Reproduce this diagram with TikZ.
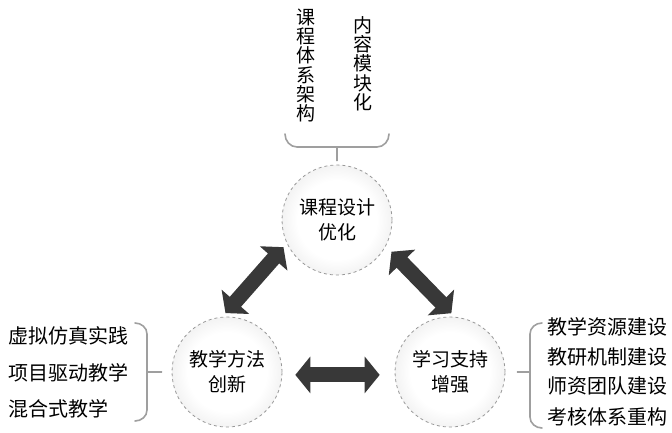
\documentclass[tikz,border=0pt]{standalone}
\usepackage{fontspec}
\setmainfont{Noto Sans CJK SC}
\usetikzlibrary{positioning}
\usetikzlibrary{arrows.meta}
\pgfdeclareradialshading{ballgray}{\pgfpoint{0bp}{0bp}}{color(0bp)=(white); color(18bp)=(white); color(50bp)=(gray!42); color(72bp)=(gray!42)}
\tikzset{
    mycircle/.style = {circle, minimum size=110pt, inner sep=0pt, draw=gray!80, dashed, line width=0.8pt, shade, shading=ballgray, align=center, font=\fontsize{19}{25}\selectfont, text=black},
    mylist/.style = {anchor=west, inner sep=0pt, font=\fontsize{20}{20}\selectfont, text=black},
    mycol/.style = {align=center, inner sep=0pt, font=\fontsize{19}{19.3}\selectfont, text=black},
    bigarrow/.style = {{Triangle[width=36pt,length=15pt]}-{Triangle[width=36pt,length=15pt]}, line width=15pt, black!78},
    bracket/.style = {-, line width=1.6pt, gray!75, line cap=round},
}
\begin{document}
\begin{tikzpicture}[x=1pt,y=-1pt]
\useasboundingbox (0,0) rectangle (672,432);
\node[mycircle] at (337,220) (design) {课程设计\\优化};
\node[mycircle] at (227,372) (method) {教学方法\\创新};
\node[mycircle] at (450,372) (support) {学习支持\\增强};
%
\draw[bigarrow, shorten <=5pt, shorten >=5pt] (method.95) -- (design.205);
\draw[bigarrow, shorten <=8pt, shorten >=5pt] (design.-28) -- (support.85);
\draw[bigarrow, shorten <=13pt, shorten >=15pt] (method.-3) -- (support.183);
%
\node[mycol] at (306,65.5) (struct) {课\\程\\体\\系\\架\\构};
\node[mycol] at (363,63.5) (module) {内\\容\\模\\块\\化};
\draw[bracket] (285,134) to[out=-90,in=180] (297,147) -- (377,147) to[out=0,in=-90] (389,134);
\coordinate (tstem) at (337,147);
\draw[bracket, shorten >=4pt] (tstem) -- (design);
%
\node[mylist] at (8,336) (virt) {虚拟仿真实践};
\node[mylist] at (8,373) (proj) {项目驱动教学};
\node[mylist] at (8,409) (mixed) {混合式教学};
\draw[bracket] (135,323) to[out=0,in=90] (147,334) -- (147,410) to[out=-90,in=0] (135,421);
\coordinate (lstem) at (147,372);
\draw[bracket, shorten >=10pt] (lstem) -- (method);
%
\node[mylist] at (547,327) (res) {教学资源建设};
\node[mylist] at (547,357) (mech) {教研机制建设};
\node[mylist] at (547,386) (team) {师资团队建设};
\node[mylist] at (547,417) (eval) {考核体系重构};
\draw[bracket] (542,323) to[out=180,in=90] (530,334) -- (530,417) to[out=-90,in=180] (542,428);
\coordinate (rstem) at (530,372);
\draw[bracket, shorten >=12pt] (rstem) -- (support);
\end{tikzpicture}
\end{document}
